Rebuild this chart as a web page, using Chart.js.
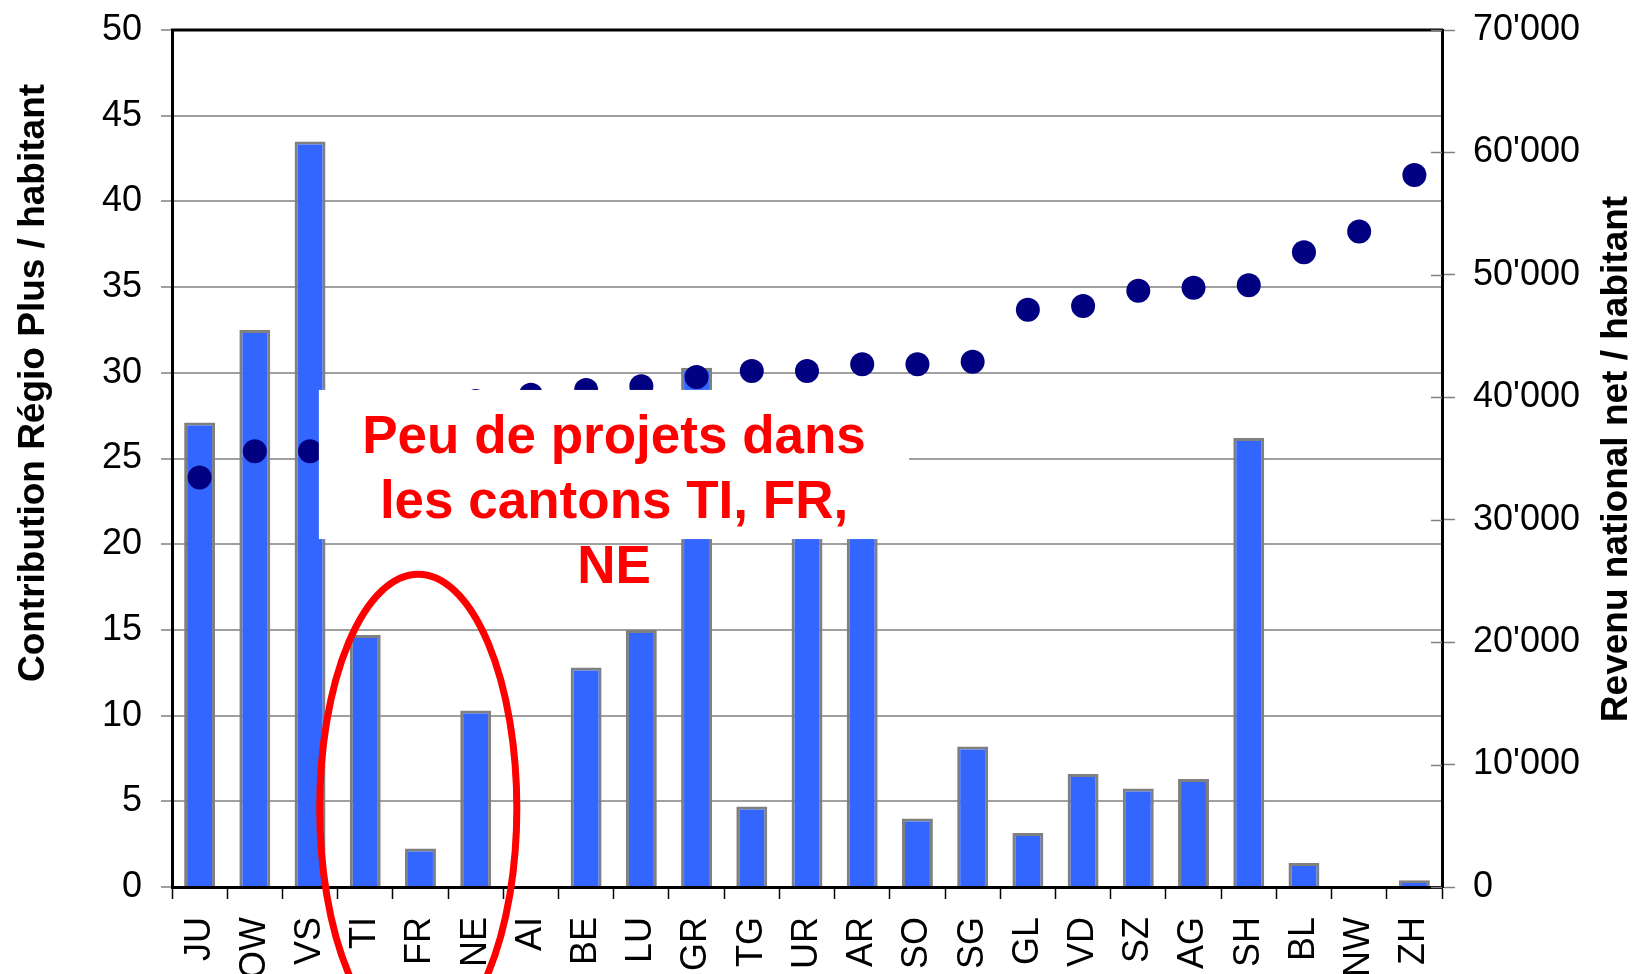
<!DOCTYPE html>
<html>
<head>
<meta charset="utf-8">
<script src="https://cdn.jsdelivr.net/npm/chart.js@4.4.1/dist/chart.umd.min.js"></script>
<style>
    html, body { margin: 0; padding: 0; background: #fff; }
    #wrap { width: 1635px; height: 974px; position: relative; }
</style>
</head>
<body>
<div id="wrap"><canvas id="chart"></canvas></div>
<script>
// cantons, sorted by revenue
const cantons = ['JU', 'OW', 'VS', 'TI', 'FR', 'NE', 'AI', 'BE', 'LU', 'GR', 'TG', 'UR',
    'AR', 'SO', 'SG', 'GL', 'VD', 'SZ', 'AG', 'SH', 'BL', 'NW', 'ZH'];

// left axis: Regio Plus contribution per inhabitant
const contribution = [27.1, 32.5, 43.5, 14.7, 2.25, 10.3, 0, 12.8, 15.0, 30.3, 4.7, 24,
    23, 4.0, 8.2, 3.15, 6.6, 5.75, 6.3, 26.2, 1.4, 0, 0.4];

// right axis: net national income per inhabitant
const revenu = [33450, 35600, 35600, 37000, 39000, 39700, 40200, 40600, 40900, 41650, 42150, 42150,
    42700, 42700, 42900, 47150, 47450, 48700, 48950, 49150, 51850, 53550, 58150];

const leftTitle = 'Contribution Régio Plus / habitant';
const rightTitle = 'Revenu national net / habitant';
const noteLines = ['Peu de projets dans', 'les cantons TI, FR,', 'NE'];

const FONT = '"Liberation Sans", Arial, sans-serif';

function swissNumber(v) {
    return String(v).replace(/\B(?=(\d{3})+(?!\d))/g, "'");
}

// keep the label overflow from pushing the plot area around
function noPad(scale) {
    scale.paddingTop = 0;
    scale.paddingBottom = 0;
    scale.paddingLeft = 0;
    scale.paddingRight = 0;
}

const overlay = {
    id: 'overlay',
    afterDraw(chart) {
        const { ctx, chartArea, scales } = chart;
        const x = scales.x, y = scales.y, y2 = scales.y2;
        ctx.save();

        // top frame line
        ctx.strokeStyle = '#000';
        ctx.lineWidth = 3;
        ctx.beginPath();
        ctx.moveTo(chartArea.left - 1, chartArea.top);
        ctx.lineTo(chartArea.right + 1, chartArea.top);
        ctx.stroke();

        // inner part of the right axis ticks
        ctx.strokeStyle = '#808080';
        ctx.lineWidth = 1.5;
        y2.ticks.forEach(t => {
            const py = Math.round(y2.getPixelForValue(t.value)) + 0.5;
            ctx.beginPath();
            ctx.moveTo(chartArea.right - 11, py);
            ctx.lineTo(chartArea.right, py);
            ctx.stroke();
        });

        // white note box with red text
        const bx0 = x.getPixelForValue(2.16);
        const bx1 = x.getPixelForValue(12.85);
        const by0 = y.getPixelForValue(29.0);
        const by1 = y.getPixelForValue(20.3);
        ctx.fillStyle = '#fff';
        ctx.fillRect(bx0, by0, bx1 - bx0, by1 - by0);

        ctx.fillStyle = '#ff0000';
        ctx.font = 'bold 53px ' + FONT;
        ctx.textAlign = 'center';
        ctx.textBaseline = 'alphabetic';
        noteLines.forEach((line, i) => {
            ctx.fillText(line, (bx0 + bx1) / 2, by0 + 63 + i * 65);
        });

        // red ellipse around TI, FR, NE
        const cx = x.getPixelForValue(3.96);
        const cy = y.getPixelForValue(4.6);
        const rx = x.getPixelForValue(3.96 + 1.785) - cx;
        const ry = cy - y.getPixelForValue(4.6 + 13.65);
        ctx.strokeStyle = '#ff0000';
        ctx.lineWidth = 7;
        ctx.beginPath();
        ctx.ellipse(cx, cy, rx, ry, 0, 0, Math.PI * 2);
        ctx.stroke();

        // axis titles
        ctx.fillStyle = '#000';
        ctx.font = 'bold 37px ' + FONT;
        ctx.textBaseline = 'middle';
        ctx.save();
        ctx.translate(34, 383);
        ctx.rotate(-Math.PI / 2);
        ctx.fillText(leftTitle, 0, 0);
        ctx.restore();
        ctx.save();
        ctx.translate(1617, 459);
        ctx.rotate(-Math.PI / 2);
        ctx.fillText(rightTitle, 0, 0);
        ctx.restore();

        ctx.restore();
    }
};

new Chart(document.getElementById('chart'), {
    type: 'bar',
    data: {
        labels: cantons,
        datasets: [
            {
                label: 'Revenu',
                type: 'line',
                data: revenu,
                yAxisID: 'y2',
                showLine: false,
                pointRadius: 12,
                pointHoverRadius: 12,
                pointBackgroundColor: '#000080',
                pointBorderWidth: 0,
                borderColor: '#000080',
                order: 0
            },
            {
                label: 'Contribution',
                data: contribution,
                yAxisID: 'y',
                backgroundColor: '#3366ff',
                borderColor: '#808080',
                borderWidth: 3,
                borderSkipped: 'start',
                barPercentage: 0.56,
                categoryPercentage: 1.0,
                order: 1
            }
        ]
    },
    options: {
        responsive: true,
        maintainAspectRatio: false,
        animation: false,
        layout: { padding: { top: 30, left: 0, right: 0, bottom: 0 } },
        plugins: {
            legend: { display: false },
            tooltip: { enabled: false }
        },
        scales: {
            x: {
                offset: true,
                grid: {
                    display: true,
                    drawOnChartArea: false,
                    offset: true,
                    tickLength: 12,
                    tickColor: '#000',
                    tickWidth: 1.5
                },
                border: { display: true, color: '#000', width: 3 },
                ticks: {
                    autoSkip: false,
                    minRotation: 90,
                    maxRotation: 90,
                    padding: 18,
                    color: '#000',
                    font: { family: FONT, size: 36 }
                },
                afterFit(scale) { noPad(scale); scale.height = 87; }
            },
            y: {
                position: 'left',
                min: 0,
                max: 50,
                ticks: {
                    stepSize: 5,
                    padding: 19,
                    color: '#000',
                    font: { family: FONT, size: 36 }
                },
                grid: {
                    color: '#a0a0a0',
                    lineWidth: 2,
                    tickLength: 11,
                    tickColor: '#808080',
                    tickWidth: 1.5
                },
                border: { display: true, color: '#000', width: 3 },
                afterFit(scale) { noPad(scale); scale.width = 172; }
            },
            y2: {
                position: 'right',
                min: 0,
                max: 70000,
                ticks: {
                    stepSize: 10000,
                    padding: 18,
                    color: '#000',
                    font: { family: FONT, size: 36 },
                    callback: v => swissNumber(v)
                },
                grid: {
                    drawOnChartArea: false,
                    tickLength: 13,
                    tickColor: '#808080',
                    tickWidth: 1.5
                },
                border: { display: true, color: '#000', width: 3 },
                afterFit(scale) { noPad(scale); scale.width = 193; }
            }
        }
    },
    plugins: [overlay]
});
</script>
</body>
</html>
